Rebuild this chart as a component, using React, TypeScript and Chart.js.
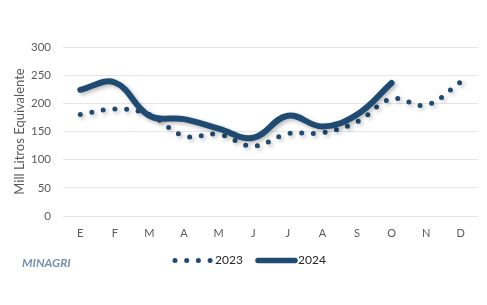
import React, { useEffect, useRef } from "react";
import { Chart, registerables } from "chart.js";

Chart.register(...registerables);

const months = ["E", "F", "M", "A", "M", "J", "J", "A", "S", "O", "N", "D"];
const serie2023 = [180, 190, 180, 142, 145, 124, 146, 148, 167, 208, 197, 238];
const serie2024 = [224, 237, 178, 172, 155, 139, 178, 159, 180, 236, null, null];
const yTicks = [0, 50, 100, 150, 200, 250, 300];
const legendLabels = ["2023", "2024"];
const sourceLabel = "MINAGRI";
const yTitle = "Mill Litros Equivalente";

const NAVY = "#1f4a72";
const FONT = "Lato, 'Noto Sans', sans-serif";

export default function App() {
  const ref = useRef<HTMLCanvasElement | null>(null);

  useEffect(() => {
    if (!ref.current) return;

    const shadowPlugin = {
      id: "shadow",
      beforeDatasetDraw(chart: any) {
        const ctx = chart.ctx;
        ctx.save();
        ctx.shadowColor = "rgba(0,0,0,0.28)";
        ctx.shadowBlur = 4;
        ctx.shadowOffsetX = 2;
        ctx.shadowOffsetY = 2;
      },
      afterDatasetDraw(chart: any) {
        chart.ctx.restore();
      },
    };

    const extrasPlugin = {
      id: "extras",
      afterDraw(chart: any) {
        const ctx = chart.ctx;
        ctx.save();
        // source label
        ctx.font = `italic bold 12px ${FONT}`;
        ctx.fillStyle = "#7391b3";
        ctx.textBaseline = "middle";
        ctx.textAlign = "left";
        ctx.fillText(sourceLabel, 22, 263);

        // legend
        const y = 260.5;
        ctx.strokeStyle = NAVY;
        ctx.lineCap = "round";
        ctx.lineWidth = 5;
        ctx.setLineDash([0, 11.7]);
        ctx.beginPath();
        ctx.moveTo(175, y);
        ctx.lineTo(211, y);
        ctx.stroke();
        ctx.setLineDash([]);
        ctx.lineWidth = 5.5;
        ctx.beginPath();
        ctx.moveTo(258, y);
        ctx.lineTo(295, y);
        ctx.stroke();

        ctx.font = `12px ${FONT}`;
        ctx.fillStyle = "#262626";
        ctx.fillText(legendLabels[0], 215, y);
        ctx.fillText(legendLabels[1], 298, y);
        ctx.restore();
      },
    };

    const chart = new Chart(ref.current, {
      type: "line",
      data: {
        labels: months,
        datasets: [
          {
            label: legendLabels[0],
            data: serie2023,
            borderColor: NAVY,
            borderWidth: 5,
            borderDash: [0, 11.7],
            borderCapStyle: "round",
            pointRadius: 0,
            tension: 0.4,
            fill: false,
            order: 2,
          },
          {
            label: legendLabels[1],
            data: serie2024,
            borderColor: NAVY,
            borderWidth: 6,
            borderCapStyle: "round",
            borderJoinStyle: "round",
            pointRadius: 0,
            tension: 0.4,
            fill: false,
            order: 1,
          },
        ],
      },
      options: {
        responsive: false,
        animation: false,
        events: [],
        layout: { padding: { top: 47, right: 9, bottom: 65, left: 0 } },
        plugins: {
          legend: { display: false },
          tooltip: { enabled: false },
        },
        scales: {
          x: {
            offset: true,
            grid: { display: false, drawTicks: false },
            border: { display: false },
            ticks: {
              color: "#595959",
              font: { family: FONT, size: 11 },
              padding: 11,
              maxRotation: 0,
              autoSkip: false,
            },
            afterFit(scale: any) {
              scale.height = 24;
            },
          },
          y: {
            min: 0,
            max: 300,
            afterBuildTicks(scale: any) {
              scale.ticks = yTicks.map((v) => ({ value: v }));
            },
            grid: { color: "#e6e6e6", lineWidth: 1, drawTicks: false },
            border: { display: false },
            ticks: {
              color: "#595959",
              font: { family: FONT, size: 11.5 },
              padding: 12,
            },
            title: {
              display: true,
              text: yTitle,
              color: "#595959",
              font: { family: FONT, size: 13 },
              padding: { top: 12, bottom: 0 },
            },
            afterFit(scale: any) {
              scale.width = 63;
            },
          },
        },
      },
      plugins: [shadowPlugin, extrasPlugin],
    } as any);

    return () => chart.destroy();
  }, []);

  return (
    <div style={{ position: "fixed", left: 0, top: 0, width: 487, height: 305, background: "#fff" }}>
      <canvas ref={ref} width={487} height={305} style={{ display: "block", width: 487, height: 305 }} />
    </div>
  );
}
